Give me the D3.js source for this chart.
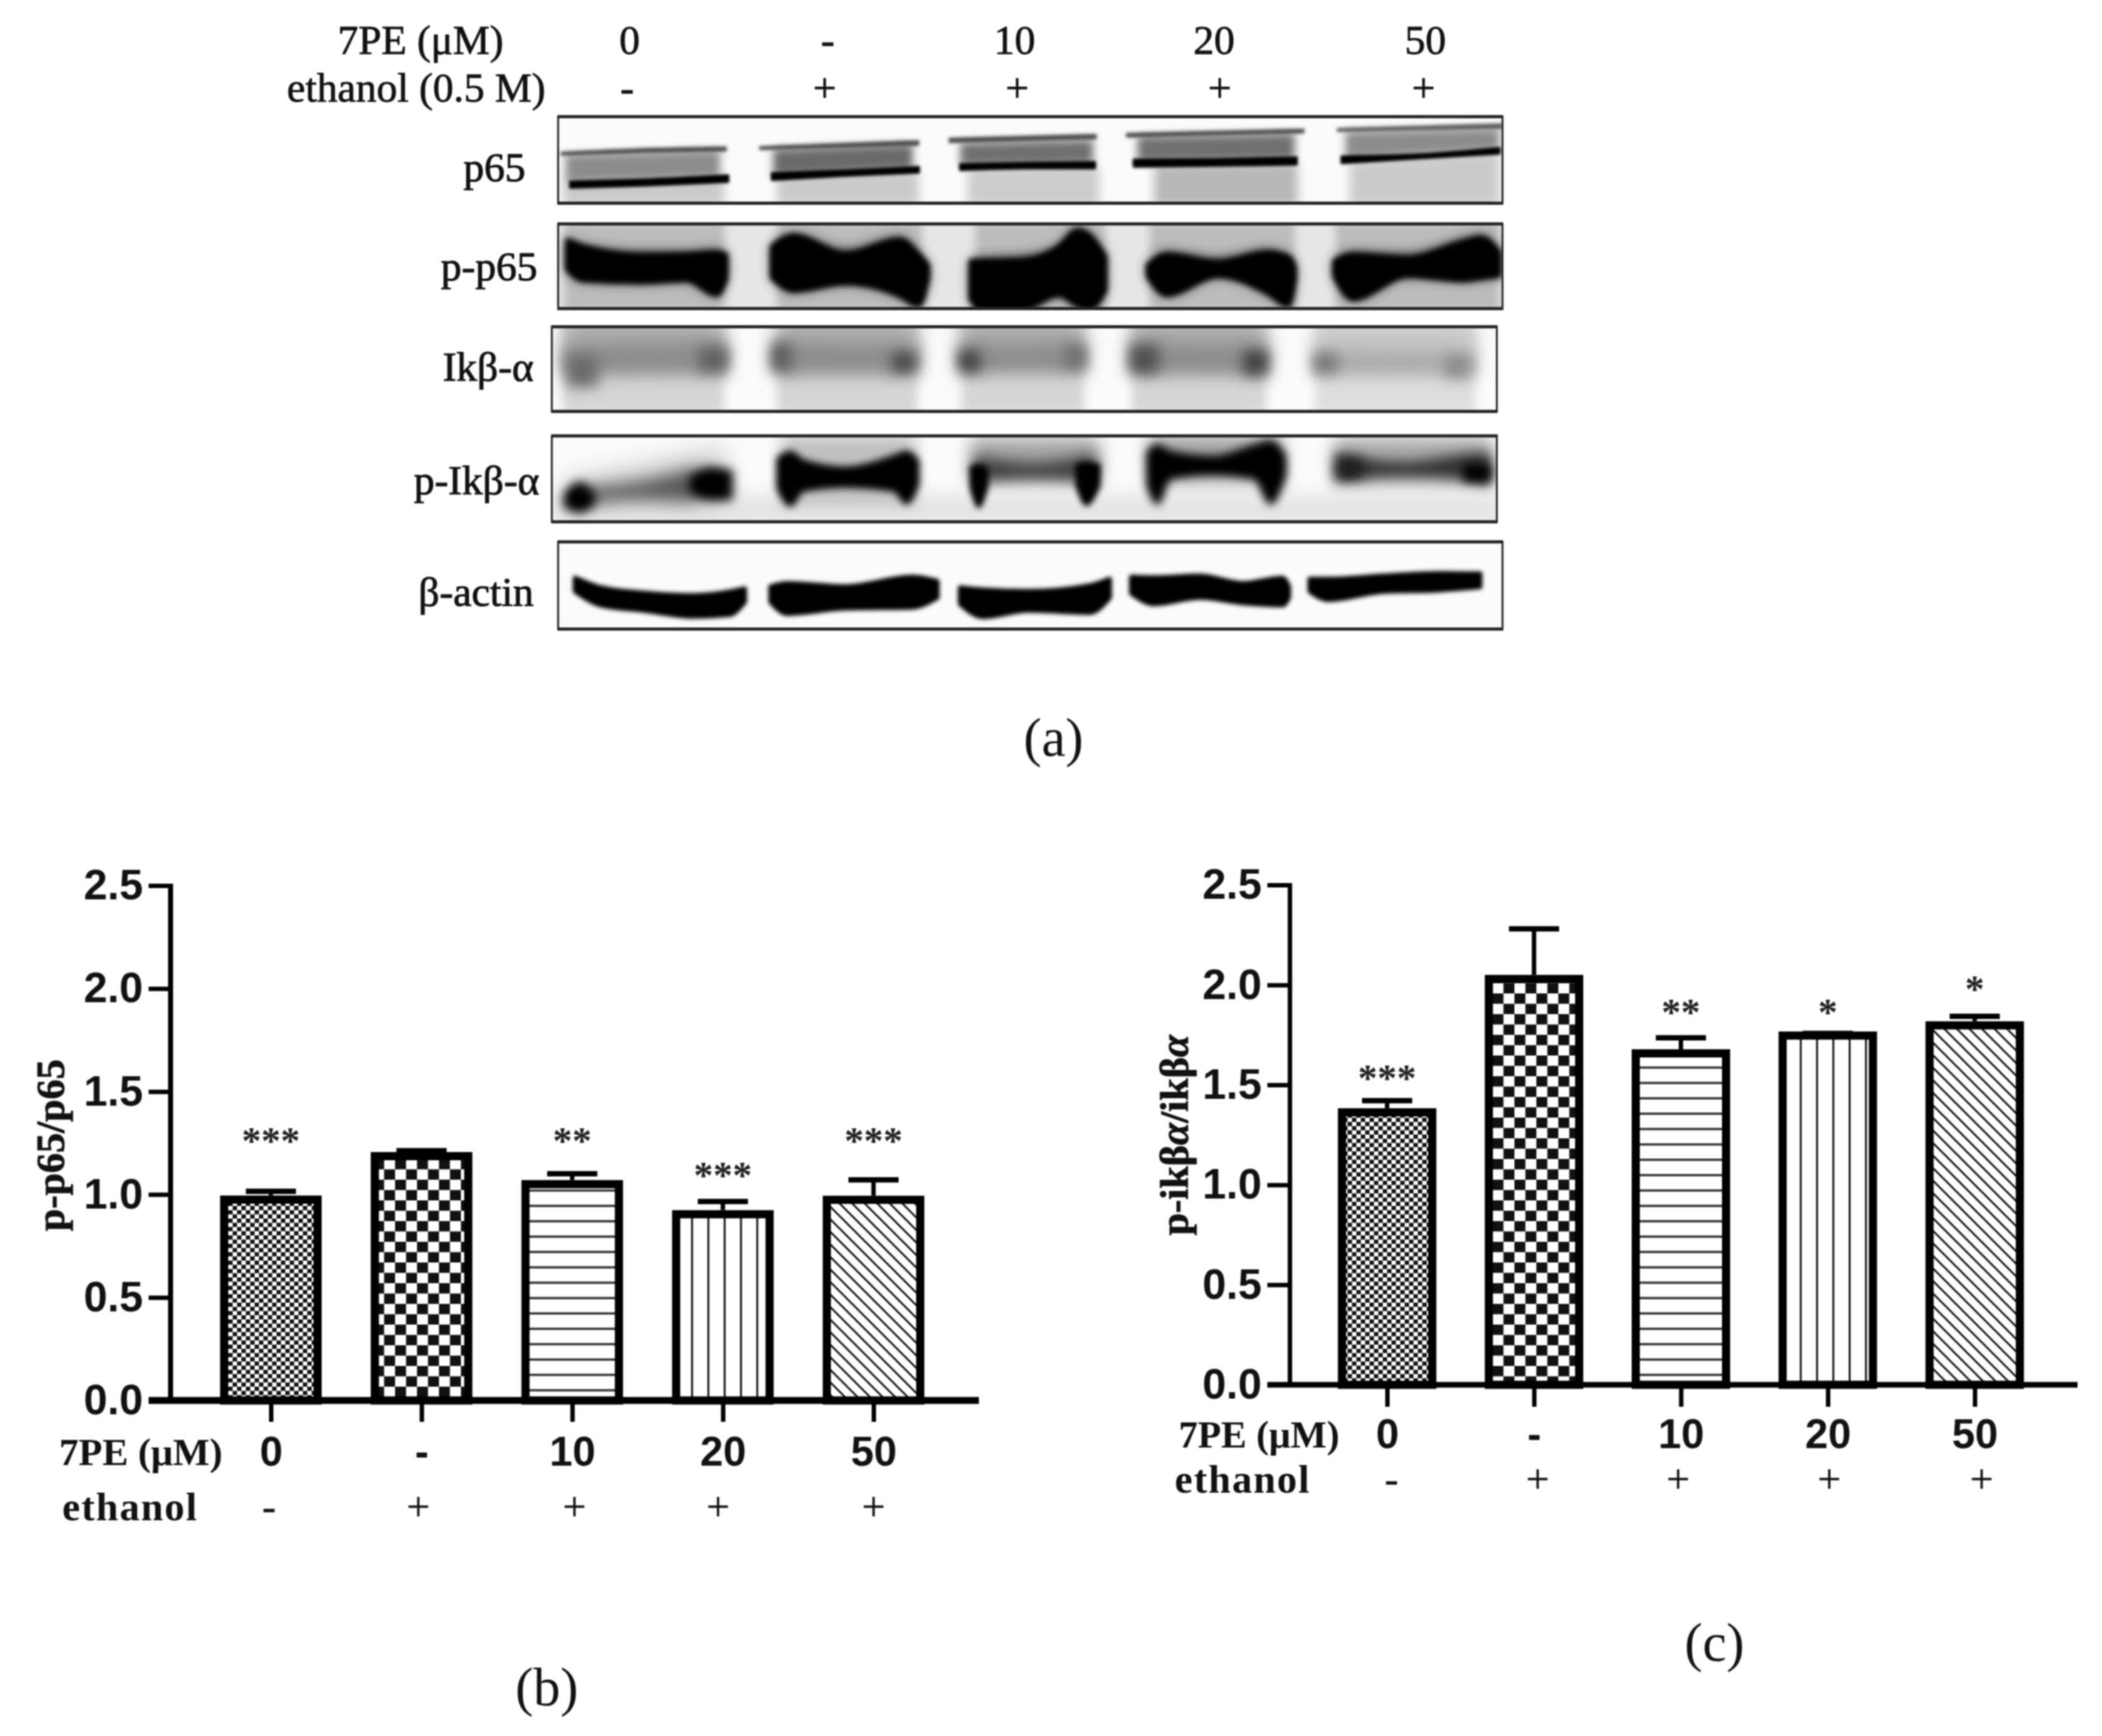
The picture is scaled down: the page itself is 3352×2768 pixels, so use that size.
<!DOCTYPE html>
<html><head><meta charset="utf-8">
<script src="https://cdn.jsdelivr.net/npm/d3@7/dist/d3.min.js"></script>
<style>html,body{margin:0;padding:0;background:#fff}svg{display:block;filter:blur(0.8px)}</style>
</head><body><div id="chart"></div>
<script>
// ---------- data ----------
const doseLabels = ["0","-","10","20","50"];
const ethanolLabels = ["-","+","+","+","+"];
const patternNames = ["fine","coarse","hlines","vlines","diag"];
const ratioB = [0.995,1.206,1.07,0.924,0.994];
const errTopB = [1.025,1.222,1.11,0.975,1.08];
const starsB = ["***","","**","***","***"];
const ratioC = [1.383,2.05,1.678,1.767,1.818];
const errTopC = [1.43,2.29,1.745,1.767,1.852];
const starsC = ["***","","**","*","*"];
const yTicks = [0,0.5,1,1.5,2,2.5];
const blotNames = ["p65","p-p65","Ikβ-α","p-Ikβ-α","β-actin"];

// Blot darkness regions as [across, upper edge, lower edge]; each blot has its own reading units.
// g grey level, b softness, s edge swell
const p65Shapes = [
 {g:"#cacaca",b:8,p:[[18,340,460],[282,320,460]]},{g:"#cacaca",b:8,p:[[368,320,460],[600,290,460]]},
 {g:"#cccccc",b:8,p:[[680,280,460],[895,270,460]]},{g:"#b8b8b8",b:8,p:[[985,265,460],[1220,255,460]]},
 {g:"#cacaca",b:8,p:[[1305,250,460],[1550,200,460]]},
 {g:"#8c8c8c",b:7,p:[[22,215,350],[275,195,325]]},{g:"#6a6a6a",b:7,p:[[362,190,320],[590,165,285]]},
 {g:"#707070",b:7,p:[[668,160,270],[885,145,260]]},{g:"#707070",b:7,p:[[958,130,250],[1215,115,240]]},
 {g:"#8c8c8c",b:7,p:[[1298,105,240],[1550,90,195]]},
 {g:"#4c4c4c",b:2.5,s:2,p:[[15,205,218],[150,188,205],[285,180,198]]},{g:"#4c4c4c",b:2.5,s:2,p:[[340,178,192],[600,150,170]]},
 {g:"#4c4c4c",b:2.5,s:2,p:[[650,138,158],[890,120,140]]},{g:"#4c4c4c",b:2.5,s:2,p:[[940,115,132],[1230,95,112]]},
 {g:"#5c5c5c",b:2.5,s:2,p:[[1285,92,105],[1555,70,90]]},
 {g:"#000",b:2,s:4,p:[[30,345,372],[150,335,362],[288,316,345]]},{g:"#000",b:2,s:4,p:[[360,305,335],[480,292,315],[600,275,300]]},
 {g:"#000",b:2,s:4,p:[[668,262,288],[780,255,280],[888,252,280]]},{g:"#000",b:2,s:4,p:[[952,240,272],[1080,238,268],[1218,230,262]]},
 {g:"#000",b:2,s:4,p:[[1292,225,255],[1420,215,232],[1550,185,210]]}
];
const pp65Shapes = [
 {g:"#e6e6e6",b:0,p:[[10,545,945],[1555,545,945]]},
 {g:"#bcbcbc",b:7,p:[[20,530,960],[282,530,960]]},{g:"#bcbcbc",b:7,p:[[368,530,960],[605,530,960]]},
 {g:"#bcbcbc",b:7,p:[[692,530,960],[905,530,960]]},{g:"#bcbcbc",b:7,p:[[978,530,960],[1215,530,960]]},
 {g:"#bcbcbc",b:7,p:[[1282,530,960],[1550,530,960]]},
 {g:"#333",b:9,s:4,p:[[25,620,760],[50,650,810],[150,680,820],[220,680,810],[270,670,880],[285,690,800]]},
 {g:"#333",b:9,s:4,p:[[360,650,800],[395,600,860],[480,670,825],[570,610,885],[600,690,930],[615,740,800]]},
 {g:"#333",b:9,s:4,p:[[685,720,900],[700,710,945],[770,700,945],[830,650,880],[860,565,930],[880,600,945],[905,700,860]]},
 {g:"#333",b:9,s:4,p:[[975,740,790],[1005,680,880],[1090,710,790],[1170,670,870],[1205,700,930],[1215,750,800]]},
 {g:"#333",b:9,s:4,p:[[1280,720,790],[1310,680,900],[1400,690,790],[1490,620,810],[1520,600,800],[1550,680,790]]},
 {g:"#000",b:4,s:6,p:[[25,620,760],[50,650,810],[150,692,820],[220,688,810],[270,680,880],[285,690,800]]},
 {g:"#000",b:4,s:6,p:[[360,650,800],[395,600,860],[480,685,825],[570,620,885],[600,690,930],[615,740,800]]},
 {g:"#000",b:4,s:6,p:[[685,720,900],[700,720,945],[770,715,945],[830,650,880],[860,575,930],[880,600,945],[905,700,860]]},
 {g:"#000",b:4,s:6,p:[[975,740,790],[1005,690,880],[1090,725,790],[1170,680,870],[1205,700,930],[1215,750,800]]},
 {g:"#000",b:4,s:6,p:[[1280,720,790],[1310,690,900],[1400,705,790],[1490,630,810],[1520,610,800],[1550,680,790]]}
];
const ikbShapes = [
 {g:"#d6d6d6",b:8,p:[[28,10,450],[292,10,450]]},{g:"#d6d6d6",b:8,p:[[378,10,450],[608,10,450]]},
 {g:"#d6d6d6",b:8,p:[[680,10,450],[880,10,450]]},{g:"#d6d6d6",b:8,p:[[958,10,450],[1178,10,450]]},
 {g:"#dedede",b:8,p:[[1258,10,450],[1520,10,450]]},
 {g:"#a6a6a6",b:16,p:[[30,10,260],[292,10,260]]},{g:"#a6a6a6",b:16,p:[[378,10,260],[608,10,260]]},
 {g:"#a6a6a6",b:16,p:[[678,10,250],[880,10,250]]},{g:"#a6a6a6",b:16,p:[[958,10,255],[1178,10,255]]},
 {g:"#c4c4c4",b:16,p:[[1258,30,260],[1518,30,260]]},
 {g:"#8c8c8c",b:12,p:[[30,130,250],[292,110,240]]},{g:"#8c8c8c",b:12,p:[[378,120,245],[608,130,245]]},
 {g:"#8c8c8c",b:12,p:[[678,130,240],[880,120,235]]},{g:"#8c8c8c",b:12,p:[[958,120,245],[1178,130,250]]},
 {g:"#aaaaaa",b:12,p:[[1258,150,250],[1518,160,255]]},
 {g:"#6a6a6a",b:11,p:[[35,170,320],[85,170,320]]},{g:"#626262",b:11,p:[[250,130,250],[298,130,250]]},
 {g:"#5c5c5c",b:11,p:[[368,110,245],[402,110,245]]},{g:"#444",b:11,p:[[566,155,250],[604,155,250]]},
 {g:"#3c3c3c",b:11,p:[[676,145,250],[710,145,250]]},{g:"#6e6e6e",b:11,p:[[848,120,235],[882,120,235]]},
 {g:"#505050",b:11,p:[[956,120,255],[1002,120,255]]},{g:"#404040",b:11,p:[[1140,145,265],[1180,145,265]]},
 {g:"#747474",b:11,p:[[1256,160,255],[1294,160,255]]},{g:"#8a8a8a",b:11,p:[[1470,170,275],[1510,170,275]]}
];
const pIkbShapes = [
 {g:"#e4e4e4",b:14,p:[[10,830,980],[1570,830,980]]},
 {g:"#d0d0d0",b:18,p:[[30,760,900],[295,600,880]]},{g:"#c0c0c0",b:12,p:[[385,550,880],[605,550,880]]},
 {g:"#a4a4a4",b:14,p:[[695,560,770],[905,560,770]]},{g:"#a0a0a0",b:14,p:[[985,550,775],[1205,550,775]]},
 {g:"#a8a8a8",b:14,p:[[1290,560,780],[1545,560,780]]},
 {g:"#585858",b:13,p:[[60,800,880],[150,770,855],[250,700,870]]},
 {g:"#000",b:8,s:6,p:[[32,830,885],[55,780,910],[78,830,870]]},{g:"#000",b:8,s:8,p:[[238,750,815],[270,710,850],[302,725,845]]},
 {g:"#000",b:6,s:6,p:[[380,660,800],[400,630,880],[420,670,810],[490,705,790],[570,650,810],[590,630,870],[608,670,780]]},
 {g:"#3c3c3c",b:11,p:[[700,645,770],[800,680,755],[900,635,770]]},
 {g:"#000",b:5,s:4,p:[[695,700,800],[708,690,890],[722,710,790]]},{g:"#000",b:5,s:4,p:[[868,690,790],[884,680,880],[905,690,790]]},
 {g:"#000",b:7,s:6,p:[[985,630,790],[1000,600,870],[1020,630,750],[1090,655,730],[1160,600,750],[1185,580,870],[1208,650,740]]},
 {g:"#333",b:10,p:[[1290,630,770],[1400,675,745],[1500,640,760],[1545,625,790]]},
 {g:"#1c1c1c",b:9,p:[[1295,660,755],[1335,660,750]]},{g:"#000",b:8,p:[[1500,685,770],[1545,685,770]]}
];
const actinShapes = [
 {g:"#000",b:3,s:8,p:[[38,200,260],[80,245,325],[150,270,350],[230,282,378],[290,265,370],[315,250,310]]},
 {g:"#000",b:3,s:8,p:[[358,240,310],[385,225,365],[480,240,340],[590,195,335],[630,215,290]]},
 {g:"#000",b:3,s:8,p:[[668,245,320],[705,255,380],[780,262,350],[880,235,360],[912,205,290]]},
 {g:"#000",b:3,s:8,p:[[948,195,270],[985,198,320],[1060,190,290],[1130,225,315],[1195,200,325],[1205,240,290]]},
 {g:"#000",b:3,s:8,p:[[1240,205,260],[1270,205,300],[1360,190,262],[1450,178,255],[1518,180,240]]}
];
const blotShapes = [p65Shapes,pp65Shapes,ikbShapes,pIkbShapes,actinShapes];
const blotReadDomains = [[[10,1555],[35,447]],[[10,1555],[545,945]],[[10,1555],[33,437]],[[10,1555],[552,960]],[[10,1555],[30,438]]];

// ---------- layout ----------
const W=3352,H=2768, SERIF="'Liberation Serif',serif", SANS="'Liberation Sans',Arial,sans-serif";
const svg=d3.select("#chart").append("svg").attr("width",W).attr("height",H).attr("viewBox",`0 0 ${W} ${H}`);
svg.append("rect").attr("width",W).attr("height",H).attr("fill","#fff");
const defs=svg.append("defs");

function addPattern(id,w,h,draw){
  const p=defs.append("pattern").attr("id",id).attr("patternUnits","userSpaceOnUse").attr("width",w).attr("height",h);
  p.append("rect").attr("width",w).attr("height",h).attr("fill","#fff");
  draw(p);
}
function checker(p,w,h){
  p.append("rect").attr("width",w/2).attr("height",h/2).attr("fill","#111");
  p.append("rect").attr("x",w/2).attr("y",h/2).attr("width",w/2).attr("height",h/2).attr("fill","#111");
}
addPattern("fine",14,13.4,p=>checker(p,14,13.4));
addPattern("coarse",35,33,p=>checker(p,35,33));
addPattern("hlines",10,24.5,p=>p.append("rect").attr("y",10).attr("width",10).attr("height",3.5).attr("fill","#2a2a2a"));
addPattern("vlines",26,10,p=>p.append("rect").attr("x",10).attr("width",3.2).attr("height",10).attr("fill","#1c1c1c"));
addPattern("diag",20,20,p=>{
  p.append("path").attr("d","M-5,-5L25,25M-5,15L5,25M15,-5L25,5").attr("stroke","#111").attr("stroke-width",3).attr("fill","none");
});

const blurs=[...new Set(blotShapes.flat().map(s=>s.b))].filter(b=>b>0);
const blurId=b=>"blur"+String(b).replace(".","_");
blurs.forEach(b=>{
  defs.append("filter").attr("id",blurId(b))
    .attr("filterUnits","userSpaceOnUse").attr("x",800).attr("y",150).attr("width",1700).attr("height",900)
    .append("feGaussianBlur").attr("stdDeviation",b);
});

// ---------- panel (a) ----------
const blotFrames=[[890,2396,186,324],[890,2396,357,492],[880,2387,521,656],[880,2387,695,832],[890,2396,864,1003]];
const blotLabelRight=[838,857,851,860,851];
const blotLabelY=[271,429,589,770,948];
const topDoseX=[1004,1320,1618,1936,2273], topEthX=[1000,1315,1622,1945,2270];
const a=svg.append("g").attr("id","panel-a");

blotFrames.forEach((f,i)=>{
  const [x0,x1,y0,y1]=f;
  const sx=d3.scaleLinear().domain(blotReadDomains[i][0]).range([x0,x1]);
  const sy=d3.scaleLinear().domain(blotReadDomains[i][1]).range([y0,y1]);
  const clip=defs.append("clipPath").attr("id","clip"+i);
  clip.append("rect").attr("x",x0).attr("y",y0).attr("width",x1-x0).attr("height",y1-y0);
  const g=a.append("g").attr("clip-path",`url(#clip${i})`);
  g.append("rect").attr("x",x0).attr("y",y0).attr("width",x1-x0).attr("height",y1-y0).attr("fill","#fbfbfb");
  const area=d3.area().x(d=>sx(d[0])).y0(d=>sy(d[1])).y1(d=>sy(d[2])).curve(d3.curveMonotoneX);
  g.selectAll("path").data(blotShapes[i]).join("path")
    .attr("d",s=>area(s.p)).attr("fill",s=>s.g)
    .attr("stroke",s=>s.s?s.g:null).attr("stroke-width",s=>s.s||null).attr("stroke-linejoin","round")
    .attr("filter",s=>s.b>0?`url(#${blurId(s.b)})`:null);
  // frame: heavy top and bottom, thin sides
  a.append("rect").attr("x",x0).attr("y",y0).attr("width",x1-x0).attr("height",y1-y0).attr("fill","none").attr("stroke","#222").attr("stroke-width",3);
  a.append("line").attr("x1",x0-1).attr("x2",x1+1).attr("y1",y0).attr("y2",y0).attr("stroke","#222").attr("stroke-width",5);
  a.append("line").attr("x1",x0-1).attr("x2",x1+1).attr("y1",y1).attr("y2",y1).attr("stroke","#222").attr("stroke-width",5);
  a.append("text").attr("x",blotLabelRight[i]).attr("y",blotLabelY[i]).attr("dy","0.28em").attr("text-anchor","end")
    .attr("font-family",SERIF).attr("font-size",66).attr("fill","#111").attr("stroke","#111").attr("stroke-width",1.2).text(blotNames[i]);
});
function aText(x,y,t,anchor,size){
  a.append("text").attr("x",x).attr("y",y).attr("text-anchor",anchor||"middle").attr("font-family",SERIF)
   .attr("font-size",size||66).attr("fill","#111").attr("stroke","#111").attr("stroke-width",1).text(t);
}
aText(803,86,"7PE (μM)","end");
aText(870,162,"ethanol (0.5 M)","end");
doseLabels.forEach((t,i)=>aText(topDoseX[i],86,t));
ethanolLabels.forEach((t,i)=>aText(topEthX[i],162,t));

// ---------- bar panels ----------
function barPanel(o){
  const g=svg.append("g").attr("id",o.id);
  const y=d3.scaleLinear().domain([0,2.5]).range([o.y0,o.y25]);
  const x=d3.scalePoint().domain(d3.range(o.values.length)).range(o.xr);
  const sw=13, bw=o.bw;
  const err=g.append("g");
  err.selectAll("line.stem").data(o.values).join("line").attr("class","stem")
    .attr("x1",(d,i)=>x(i)).attr("x2",(d,i)=>x(i)).attr("y1",d=>y(d)).attr("y2",(d,i)=>y(o.err[i]))
    .attr("stroke","#000").attr("stroke-width",7);
  err.selectAll("line.cap").data(o.err).join("line").attr("class","cap")
    .attr("x1",(d,i)=>x(i)-40).attr("x2",(d,i)=>x(i)+40).attr("y1",d=>y(d)+3).attr("y2",d=>y(d)+3)
    .attr("stroke","#000").attr("stroke-width",8.5);
  g.append("g").selectAll("rect").data(o.values).join("rect")
    .attr("x",(d,i)=>x(i)-bw/2+sw/2).attr("width",bw-sw)
    .attr("y",d=>y(d)+sw/2).attr("height",d=>y(0)-y(d)-sw/2)
    .attr("fill",(d,i)=>`url(#${patternNames[i]})`).attr("stroke","#000").attr("stroke-width",sw);

  const yAxis=d3.axisLeft(y).tickValues(yTicks).tickFormat(d3.format(".1f")).tickSize(o.tick).tickSizeOuter(0).tickPadding(9);
  const ya=g.append("g").attr("transform",`translate(${o.axisX},0)`).call(yAxis);
  ya.select(".domain").attr("stroke","#000").attr("stroke-width",o.axisW).attr("d",`M0,${o.y25-3}V${o.y0}`);
  ya.selectAll(".tick line").attr("stroke","#000").attr("stroke-width",o.tickW);
  ya.selectAll("text").attr("font-family",SANS).attr("font-weight","bold").attr("font-size",68).attr("fill","#111");

  const xa=g.append("g").attr("transform",`translate(0,${o.y0})`)
    .call(d3.axisBottom(x).tickFormat(i=>doseLabels[i]).tickSize(o.xTick).tickPadding(o.xPad).tickSizeOuter(0));
  xa.select(".domain").attr("stroke","#000").attr("stroke-width",o.baseW).attr("d",`M${o.axisX-o.tick},0H${o.xEnd}`);
  xa.selectAll(".tick line").attr("stroke","#000").attr("stroke-width",o.tickW);
  xa.selectAll("text").attr("font-family",SANS).attr("font-weight","bold").attr("font-size",66).attr("fill","#111");

  g.append("text").attr("x",o.doseLabel[1]).attr("y",o.doseLabel[0]).attr("text-anchor","end").attr("font-family",SERIF)
    .attr("font-weight","bold").attr("font-size",o.doseSize).attr("fill","#111").text("7PE (μM)");
  g.append("text").attr("x",o.ethLabel[1]).attr("y",o.ethLabel[0]).attr("text-anchor","end").attr("font-family",SERIF)
    .attr("font-weight","bold").attr("font-size",64).attr("fill","#111").attr("letter-spacing",2).text("ethanol");
  g.append("g").selectAll("text").data(ethanolLabels).join("text")
    .attr("x",(d,i)=>o.ethX[i]).attr("y",o.ethLabel[0]).attr("text-anchor","middle").attr("font-family",SERIF)
    .attr("font-size",66).attr("fill","#111").attr("stroke","#111").attr("stroke-width",0.6).text(d=>d);

  g.append("g").selectAll("text").data(o.stars).join("text")
    .attr("x",(d,i)=>x(i)).attr("y",(d,i)=>o.starY[i]).attr("dy","0.45em").attr("text-anchor","middle")
    .attr("font-family",SERIF).attr("font-weight","bold").attr("font-size",62).attr("fill","#222").text(d=>d);

  const t=g.append("text").attr("transform",`translate(${o.titleX},${o.titleY}) rotate(-90)`).attr("text-anchor","middle")
    .attr("font-family",SERIF).attr("font-weight","bold").attr("font-size",64).attr("fill","#111").attr("stroke","#111").attr("stroke-width",1);
  o.title.forEach(s=>t.append("tspan").attr("font-style",s[1]?"italic":"normal").text(s[0]));
}

barPanel({id:"panel-b",values:ratioB,err:errTopB,stars:starsB,y0:2233,y25:1412,xr:[432,1393],bw:162,axisX:272,tick:35,axisW:8,tickW:7,baseW:11,
  xEnd:1561,xTick:34,xPad:23,doseSize:62,doseLabel:[2336,355],ethLabel:[2424,316],ethX:[429,667,916,1145,1393],starY:[1811,0,1811,1866,1811],
  titleX:102,titleY:1826,title:[["p-p65/p65",0]]});
barPanel({id:"panel-c",values:ratioC,err:errTopC,stars:starsC,y0:2208,y25:1411,xr:[2212,3149],bw:157,axisX:2057,tick:36,axisW:7,tickW:7,baseW:9,
  xEnd:3313,xTick:35,xPad:19,doseSize:61,doseLabel:[2308,2136],ethLabel:[2380,2090],ethX:[2219,2452,2676,2917,3160],starY:[1711,0,1606,1606,1569],
  titleX:1894,titleY:1810,title:[["p-ikβ",0],["α",1],["/ikβ",0],["α",1]]});

// ---------- panel letters ----------
[["(a)",1680,1205],["(b)",872,2719],["(c)",2734,2648]].forEach(d=>{
  svg.append("text").attr("x",d[1]).attr("y",d[2]).attr("text-anchor","middle").attr("font-family",SERIF)
    .attr("font-size",86).attr("fill","#111").text(d[0]);
});
</script></body></html>
